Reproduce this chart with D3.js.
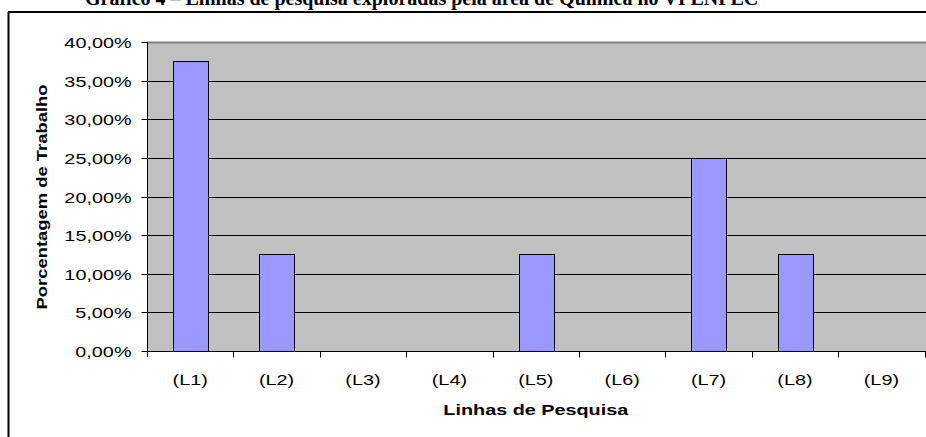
<!DOCTYPE html>
<html>
<head>
<meta charset="utf-8">
<script src="https://cdn.jsdelivr.net/npm/d3@7"></script>
<style>
  body { margin: 0; background: #fff; }
  svg { display: block; }
</style>
</head>
<body>
<svg id="svg"></svg>
<script>
// categories and values
let categories = ["(L1)", "(L2)", "(L3)", "(L4)", "(L5)", "(L6)", "(L7)", "(L8)", "(L9)"];
let values = [37.5, 12.5, 0, 0, 12.5, 0, 25, 12.5, 0];
let yTicks = [0, 5, 10, 15, 20, 25, 30, 35, 40];

let titleText = "Gráfico 4 – Linhas de pesquisa exploradas pela área de Química no VI ENPEC";
let xTitle = "Linhas de Pesquisa";
let yTitle = "Porcentagem de Trabalho";

let width = 926, height = 437;
let plot = { left: 147, right: 925, top: 42, bottom: 351 };
let stretch = 1.32; // text in the original is squeezed wider

let svg = d3.select("#svg").attr("width", width).attr("height", height);

// outer frame (cut off at right and bottom)
svg.append("line").attr("x1", 8.5).attr("x2", 8.5).attr("y1", 12).attr("y2", height)
  .attr("stroke", "#000").attr("stroke-width", 2);
svg.append("line").attr("x1", 8).attr("x2", width).attr("y1", 12).attr("y2", 12)
  .attr("stroke", "#000").attr("stroke-width", 2);

// title, mostly cut off at the top like in the source
svg.append("text")
  .attr("x", 85).attr("y", 5)
  .attr("font-family", "Liberation Serif")
  .attr("font-weight", "bold")
  .attr("font-size", 20)
  .text(titleText);

let data = categories.map((c, i) => ({ cat: c, value: values[i] }));

let x = d3.scaleBand().domain(categories).range([plot.left, plot.left + 9 * 86.4])
  .paddingInner(0.6).paddingOuter(0.3);
let xOuter = d3.scaleBand().domain(categories).range([plot.left, plot.left + 9 * 86.4]);
let y = d3.scaleLinear().domain([0, 40]).range([plot.bottom, plot.top]);

// plot background
svg.append("rect")
  .attr("x", plot.left).attr("y", plot.top)
  .attr("width", width - plot.left).attr("height", plot.bottom - plot.top)
  .attr("fill", "#c0c0c0");

// gridlines
svg.append("g").selectAll("line")
  .data(yTicks.filter(d => d > 0))
  .enter().append("line")
  .attr("x1", plot.left).attr("x2", width)
  .attr("y1", d => Math.round(y(d)) + 0.5).attr("y2", d => Math.round(y(d)) + 0.5)
  .attr("stroke", d => d == 40 ? "#808080" : "#000")
  .attr("stroke-width", d => d == 40 ? 2 : 1);

// bars
svg.append("g").selectAll("rect")
  .data(data.filter(d => d.value > 0))
  .enter().append("rect")
  .attr("x", d => Math.round(x(d.cat)) + 0.5)
  .attr("y", d => Math.round(y(d.value)) + 0.5)
  .attr("width", Math.round(x.bandwidth()))
  .attr("height", d => Math.round(y(0)) - Math.round(y(d.value)))
  .attr("fill", "#9999ff")
  .attr("stroke", "#000")
  .attr("stroke-width", 1);

function stretchText(sel) {
  sel.each(function() {
    let w = this.getComputedTextLength();
    d3.select(this).attr("textLength", w * stretch).attr("lengthAdjust", "spacingAndGlyphs");
  });
}

// y axis
let yAxis = svg.append("g").attr("transform", "translate(" + (plot.left + 0.5) + ",0)")
  .call(d3.axisLeft(y).tickValues(yTicks).tickSize(6).tickPadding(10)
    .tickFormat(d => d3.format(".2f")(d).replace(".", ",") + "%"));
yAxis.select(".domain").attr("stroke", "#000").attr("d", "M0," + plot.top + "V" + (plot.bottom + 6));
yAxis.selectAll(".tick line").attr("stroke", "#000");
yAxis.selectAll(".tick text")
  .attr("font-family", "Liberation Sans").attr("font-size", 15).attr("fill", "#000")
  .attr("dy", "0.36em")
  .call(stretchText);
yAxis.selectAll(".tick").attr("transform", d => "translate(0," + (Math.round(y(d)) + 0.5) + ")");

// x axis
let xAxis = svg.append("g").attr("transform", "translate(0," + (plot.bottom + 0.5) + ")");
xAxis.append("line").attr("x1", plot.left).attr("x2", width).attr("stroke", "#000");
xAxis.selectAll("line.tk")
  .data(categories)
  .enter().append("line").attr("class", "tk")
  .attr("x1", d => Math.round(xOuter(d) + xOuter.bandwidth()) + 0.5)
  .attr("x2", d => Math.round(xOuter(d) + xOuter.bandwidth()) + 0.5)
  .attr("y1", 0).attr("y2", 6).attr("stroke", "#000");
xAxis.selectAll("text")
  .data(categories)
  .enter().append("text")
  .attr("x", d => xOuter(d) + xOuter.bandwidth() / 2)
  .attr("y", 33)
  .attr("text-anchor", "middle")
  .attr("font-family", "Liberation Sans").attr("font-size", 15)
  .text(d => d)
  .call(stretchText);

// axis titles
svg.append("text")
  .attr("x", (plot.left + plot.left + 9 * 86.4) / 2).attr("y", 415)
  .attr("text-anchor", "middle")
  .attr("font-family", "Liberation Sans").attr("font-weight", "bold").attr("font-size", 15)
  .text(xTitle)
  .call(stretchText);

svg.append("text")
  .attr("transform", "translate(47," + 197 + ") rotate(-90)")
  .attr("text-anchor", "middle")
  .attr("font-family", "Liberation Sans").attr("font-weight", "bold").attr("font-size", 15)
  .attr("textLength", 225).attr("lengthAdjust", "spacingAndGlyphs")
  .text(yTitle);
</script>
</body>
</html>
